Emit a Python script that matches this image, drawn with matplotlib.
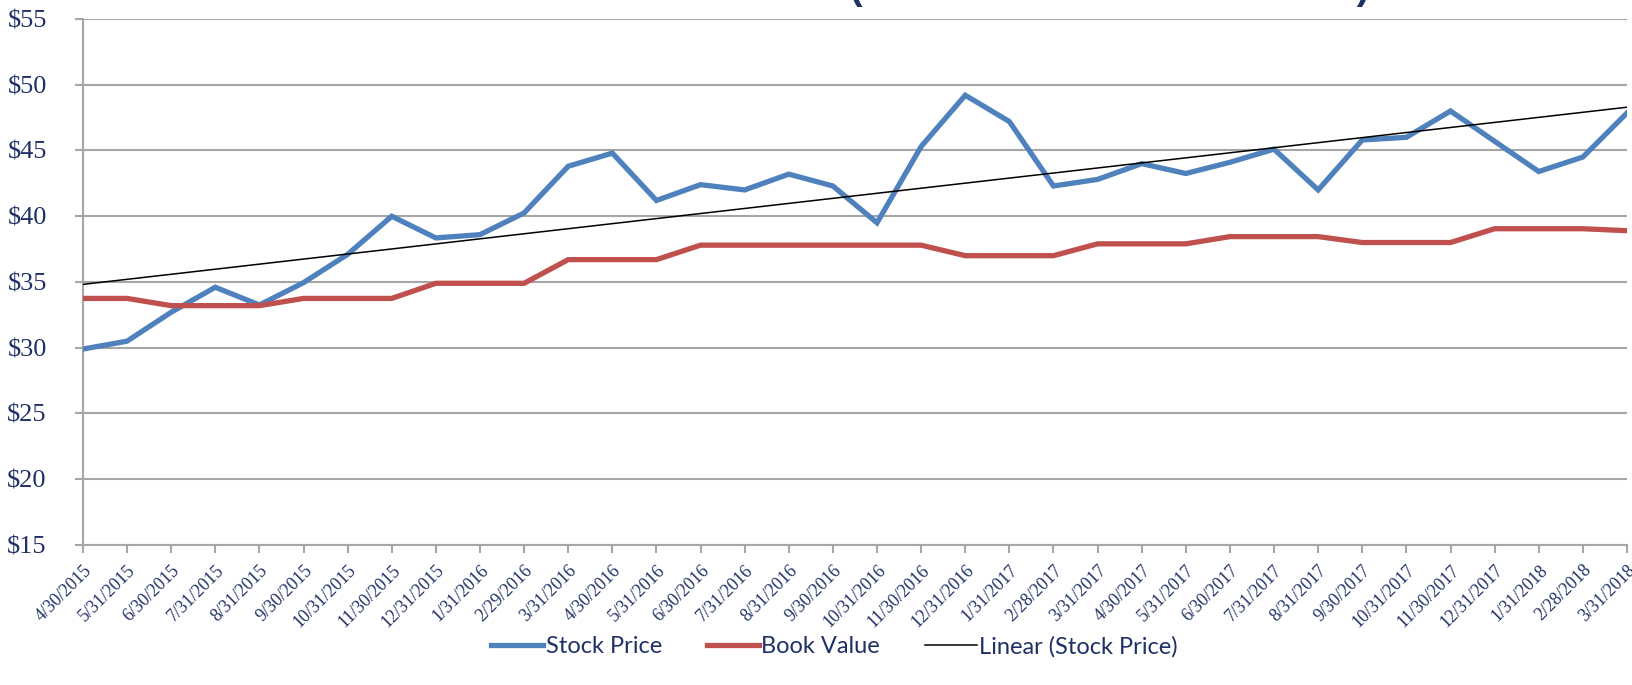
import numpy as np
import matplotlib
matplotlib.use("Agg")
import matplotlib.pyplot as plt

# ---- data ----
dates = ["4/30/2015", "5/31/2015", "6/30/2015", "7/31/2015", "8/31/2015", "9/30/2015",
         "10/31/2015", "11/30/2015", "12/31/2015", "1/31/2016", "2/29/2016", "3/31/2016",
         "4/30/2016", "5/31/2016", "6/30/2016", "7/31/2016", "8/31/2016", "9/30/2016",
         "10/31/2016", "11/30/2016", "12/31/2016", "1/31/2017", "2/28/2017", "3/31/2017",
         "4/30/2017", "5/31/2017", "6/30/2017", "7/31/2017", "8/31/2017", "9/30/2017",
         "10/31/2017", "11/30/2017", "12/31/2017", "1/31/2018", "2/28/2018", "3/31/2018"]

stock_price = [29.9, 30.5, 32.7, 34.6, 33.25, 34.95, 37.1, 40.0, 38.35, 38.6, 40.25, 43.8,
               44.8, 41.2, 42.4, 42.0, 43.2, 42.3, 39.5, 45.3, 49.2, 47.2, 42.3, 42.8,
               44.0, 43.25, 44.1, 45.1, 42.0, 45.8, 46.0, 48.0, 45.7, 43.4, 44.5, 47.85]

book_value = [33.75, 33.75, 33.2, 33.2, 33.2, 33.75, 33.75, 33.75, 34.9, 34.9, 34.9, 36.7,
              36.7, 36.7, 37.8, 37.8, 37.8, 37.8, 37.8, 37.8, 37.0, 37.0, 37.0, 37.9,
              37.9, 37.9, 38.45, 38.45, 38.45, 38.0, 38.0, 38.0, 39.05, 39.05, 39.05, 38.9]

y_ticks = [15, 20, 25, 30, 35, 40, 45, 50, 55]

TITLE = "STOCK PRICE VS. BOOK VALUE (APRIL 2015 \u2013 MARCH 2018)"

# ---- style ----
NAVY = "#1F3066"
BLUE = "#4F81BD"
RED = "#C0504D"
GRID = "#A6A6A6"

x = np.arange(len(dates))
slope, icpt = np.polyfit(x, stock_price, 1)
trend = slope * x + icpt

fig = plt.figure(figsize=(16.33, 6.85), dpi=100)
ax = fig.add_axes([0.0508, 0.2044, 0.9455, 0.7679])

ax.plot(x, stock_price, color=BLUE, lw=3.8, label="Stock Price", solid_joinstyle="miter", zorder=3)
ax.plot(x, book_value, color=RED, lw=3.8, label="Book Value", solid_joinstyle="miter", zorder=3)
ax.plot(x, trend, color="black", lw=1.1, label="Linear (Stock Price)", zorder=4)

ax.set_xlim(0, len(dates) - 1)
ax.set_ylim(15, 55)
ax.set_yticks(y_ticks)
ax.set_yticklabels([f"${v}" for v in y_ticks], family="Liberation Serif", fontsize=19, color=NAVY)
ax.set_xticks(x)
ax.set_xticklabels(dates, rotation=45, ha="right", rotation_mode="anchor",
                   family="Liberation Serif", fontsize=12.8, color=NAVY)

ax.grid(axis="y", color=GRID, lw=1.5, zorder=0)
for s in ["top", "right"]:
    ax.spines[s].set_visible(False)
for s in ["left", "bottom"]:
    ax.spines[s].set_color(GRID)
    ax.spines[s].set_linewidth(1.5)
ax.tick_params(axis="both", color=GRID, width=1.5, length=6)
ax.tick_params(axis="y", pad=20)
ax.tick_params(axis="x", pad=6)

leg = fig.legend(loc="center", bbox_to_anchor=(0.511, 0.056), ncol=3, frameon=False,
                 prop={"family": "Lato", "size": 17}, handlelength=2.2, handletextpad=0.1,
                 columnspacing=1.9)
for t in leg.get_texts():
    t.set_color(NAVY)

# title sits almost entirely above the canvas, as in the reference
fig.text(0.8385, 1.001, TITLE, ha="right", va="baseline", fontsize=27.7,
         fontweight="bold", color=NAVY, family="Liberation Sans")

fig.savefig("out.png", dpi=100)
